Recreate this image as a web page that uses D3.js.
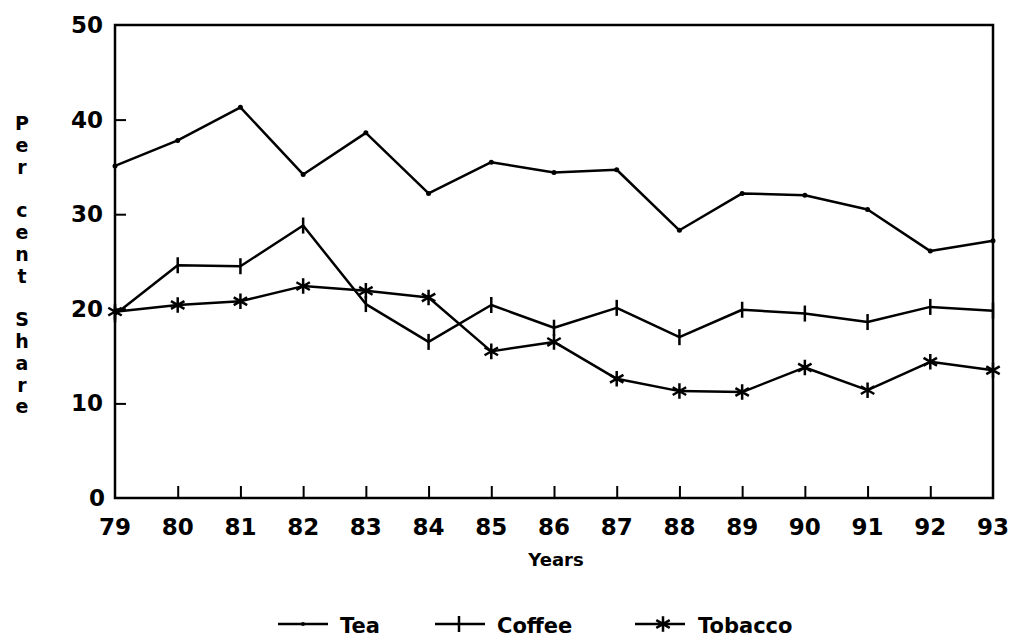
<!DOCTYPE html>
<html>
<head>
<meta charset="utf-8">
<script src="https://cdn.jsdelivr.net/npm/d3@7"></script>
<style>
  body { margin: 0; background: #fff; }
  text { font-family: "DejaVu Sans", sans-serif; font-weight: bold; fill: #000; }
</style>
</head>
<body>
<svg id="chart" width="1016" height="641"></svg>
<script>
const years = [79, 80, 81, 82, 83, 84, 85, 86, 87, 88, 89, 90, 91, 92, 93];
const yTicks = [0, 10, 20, 30, 40, 50];
const tea = [35.1, 37.8, 41.3, 34.2, 38.6, 32.2, 35.5, 34.4, 34.7, 28.3, 32.2, 32.0, 30.5, 26.1, 27.2];
const coffee = [19.4, 24.6, 24.5, 28.8, 20.5, 16.5, 20.4, 18.0, 20.1, 17.0, 19.9, 19.5, 18.6, 20.2, 19.8];
const tobacco = [19.7, 20.4, 20.8, 22.4, 21.9, 21.2, 15.5, 16.5, 12.6, 11.3, 11.2, 13.8, 11.4, 14.4, 13.5];
const seriesNames = ["Tea", "Coffee", "Tobacco"];
const yTitle = "Per cent Share";

function buildChart() {
    const left = 115, right = 993, top = 25, bottom = 498;
    const xs = d3.scaleLinear().domain([79, 93]).range([left, right]);
    const ys = d3.scaleLinear().domain([0, 50]).range([bottom, top]);
    const svg = d3.select("#chart");

    // frame
    svg.append("rect").attr("x", left).attr("y", top)
       .attr("width", right - left).attr("height", bottom - top)
       .attr("fill", "none").attr("stroke", "#000").attr("stroke-width", 2.5);

    // axes with inward ticks
    const xAxis = svg.append("g").attr("transform", `translate(0, ${bottom})`)
        .call(d3.axisTop(xs).tickValues(years.slice(1, -1)).tickSize(12).tickFormat(""));
    xAxis.select(".domain").remove();
    xAxis.selectAll("line").attr("stroke-width", 2);

    const yAxis = svg.append("g").attr("transform", `translate(${left}, 0)`)
        .call(d3.axisRight(ys).tickValues(yTicks.slice(1, -1)).tickSize(11).tickFormat(""));
    yAxis.select(".domain").remove();
    yAxis.selectAll("line").attr("stroke-width", 2);

    // tick labels
    svg.append("g").selectAll("text").data(years).enter().append("text")
       .attr("x", d => xs(d)).attr("y", 535)
       .attr("text-anchor", "middle").style("font-size", "23px")
       .text(d => d);
    svg.append("g").selectAll("text").data(yTicks).enter().append("text")
       .attr("x", d => d == 0 ? 105 : 103).attr("y", d => ys(d) + 8)
       .attr("text-anchor", "end").style("font-size", "23px")
       .text(d => d);

    svg.append("text").attr("x", 556).attr("y", 566).attr("text-anchor", "middle")
       .style("font-size", "18px").text("Years");

    // vertical stacked y title
    svg.append("g").selectAll("text").data(yTitle.split("")).enter().append("text")
       .attr("x", 22).attr("y", (d, i) => 130 + i * 21.8)
       .attr("text-anchor", "middle").style("font-size", "19px")
       .text(d => d);

    // lines
    const line = d3.line().x((d, i) => xs(years[i])).y(d => ys(d));
    const all = [tea, coffee, tobacco];
    const lineGrp = svg.append("g");
    all.forEach(s => {
        lineGrp.append("path").attr("d", line(s)).attr("fill", "none")
               .attr("stroke", "#000").attr("stroke-width", 2.5).attr("stroke-linejoin", "round");
    });

    // markers
    const plusPath = "M0,-8L0,8";
    const starPath = d3.symbol(d3.symbolAsterisk, 170)();
    lineGrp.append("g").selectAll("circle").data(tea).enter().append("circle")
           .attr("cx", (d, i) => xs(years[i])).attr("cy", d => ys(d)).attr("r", 2.5).attr("fill", "#000");
    lineGrp.append("g").selectAll("path").data(coffee).enter().append("path")
           .attr("transform", (d, i) => `translate(${xs(years[i])}, ${ys(d)})`)
           .attr("d", plusPath).attr("stroke", "#000").attr("stroke-width", 2.5);
    lineGrp.append("g").selectAll("path").data(tobacco).enter().append("path")
           .attr("transform", (d, i) => `translate(${xs(years[i])}, ${ys(d)})`)
           .attr("d", starPath).attr("fill", "none").attr("stroke", "#000").attr("stroke-width", 2.5);

    // legend
    const legX = [278, 435, 635];
    const legY = 624;
    const leg = svg.append("g").selectAll("g").data(seriesNames).enter().append("g")
                   .attr("transform", (d, i) => `translate(${legX[i]}, ${legY})`);
    leg.append("line").attr("x1", 0).attr("x2", 50).attr("y1", 0).attr("y2", 0)
       .attr("stroke", "#000").attr("stroke-width", 2.5);
    leg.filter((d, i) => i == 0).append("circle").attr("cx", 25).attr("r", 2).attr("fill", "#000");
    leg.filter((d, i) => i == 1).append("path").attr("transform", "translate(24, 0)")
       .attr("d", plusPath).attr("stroke", "#000").attr("stroke-width", 2.5);
    leg.filter((d, i) => i == 2).append("path").attr("transform", "translate(28, 0)")
       .attr("d", starPath).attr("fill", "none").attr("stroke", "#000").attr("stroke-width", 2.5);
    leg.append("text").attr("x", (d, i) => i == 2 ? 63 : 62).attr("y", 9)
       .style("font-size", "21px").text(d => d);
}

buildChart();
</script>
</body>
</html>
